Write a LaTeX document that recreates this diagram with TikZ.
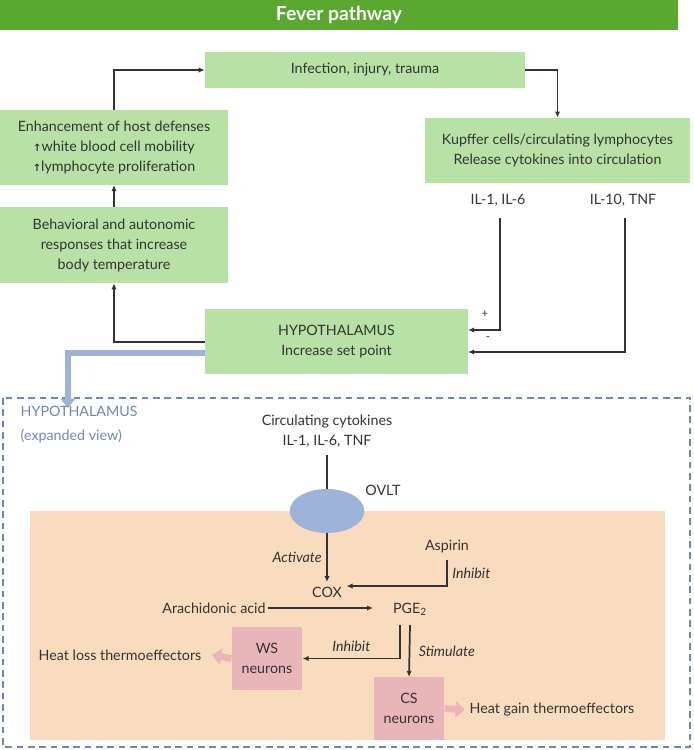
\documentclass[tikz,border=0pt]{standalone}
\usepackage{fontspec}
\setmainfont{Lato}
\newfontfamily\arrowfont{DejaVu Sans}
\usepackage{tikz}
\usetikzlibrary{positioning,shapes.geometric,arrows.meta}
\definecolor{titlegreen}{HTML}{5AA830}
\definecolor{boxgreen}{HTML}{B8E2A5}
\definecolor{ovltblue}{HTML}{9DB3D8}
\definecolor{dashblue}{HTML}{6F87B5}
\definecolor{zoneorange}{HTML}{F9DCBE}
\definecolor{neuronpink}{HTML}{E8B5B9}
\definecolor{pinkarrow}{HTML}{EDB3B8}
\definecolor{txtgray}{HTML}{333333}
\tikzstyle{greenbox} = [rectangle, fill=boxgreen, text centered, align=center, font=\fontsize{10.7}{15}\selectfont, text=txtgray]
\tikzstyle{neuron} = [rectangle, fill=neuronpink, text centered, align=center, minimum width=53pt, minimum height=47pt, font=\fontsize{10.7}{15}\selectfont, text=txtgray]
\tikzstyle{label} = [font=\fontsize{10.7}{14}\selectfont, text=txtgray, align=center]
\tikzstyle{effect} = [font=\fontsize{10.7}{14}\selectfont\itshape, text=txtgray]
\tikzstyle{arrow} = [line width=1.3pt, draw=txtgray, -{Latex[length=4.5pt,width=4pt]}]
\tikzstyle{plain} = [line width=1.3pt, draw=txtgray]
\tikzstyle{fatarrow} = [line width=4.5pt, -{Triangle[length=7pt,width=11pt]}]
\newcommand{\uparr}{{\arrowfont\bfseries\fontsize{7.5}{7}\selectfont ↑}}

\begin{document}
\begin{tikzpicture}[x=0.75pt,y=-0.75pt]
            \useasboundingbox (0,0) rectangle (693,750);

            % Title
            \fill[titlegreen] (0,0) rectangle (678,30);
            \node (title) at (339,15) [text=white, font=\fontsize{14.5}{16}\selectfont\bfseries] {Fever pathway};

            % Nodes
            \node (infect) at (365,70) [greenbox, minimum width=240pt, minimum height=27pt] {Infection, injury, trauma};
            \node (enhance) at (114,147.5) [greenbox, minimum width=171pt, minimum height=56pt] {Enhancement of host defenses\\\uparr white blood cell mobility\\\uparr lymphocyte proliferation};
            \node (kupffer) at (557.5,150.5) [greenbox, minimum width=199pt, minimum height=49pt] {Kupffer cells/circulating lymphocytes\\Release cytokines into circulation};
            \node (behave) at (114,245) [greenbox, minimum width=171pt, minimum height=57pt] {Behavioral and autonomic\\responses that increase\\body temperature};
            \node (hypo) at (336.5,341.5) [greenbox, minimum width=197pt, minimum height=49pt] {HYPOTHALAMUS\\Increase set point};

            \node (ilone) at (498,200) [label] {IL-1, IL-6};
            \node (ilten) at (623,200) [label] {IL-10, TNF};
            \coordinate (ilonetop) at (500,218);
            \coordinate (iltentop) at (625,218);

            % Arrows
            \draw [arrow] (enhance.north) |- (infect.west);
            \draw [arrow] (infect.east) -| (kupffer.north);
            \draw [arrow] (behave.north) -- (enhance.south);
            \draw [arrow] (hypo.west |- 0,342) -| (behave.south);
            \draw [arrow] (ilonetop) |- (hypo.east |- 0,330);
            \draw [arrow] (iltentop) |- (hypo.east |- 0,352);
            \node (plus) at (485,314) [label, font=\fontsize{8.5}{9}\selectfont] {+};
            \node (minus) at (488,339) [label, font=\fontsize{8.5}{9}\selectfont] {-};

            % Expanded view
            \draw[dashblue, line width=1.2pt, dash pattern=on 5pt off 3.5pt] (3,398) rectangle (690,747);
            \draw [fatarrow, ovltblue] (hypo.west |- 0,353) -| (68,408);
            \node (exptitle) at (16,411) [anchor=west, text=dashblue, font=\fontsize{10.7}{14}\selectfont] {HYPOTHALAMUS};
            \node (expsub) at (16,436) [anchor=west, text=dashblue, font=\fontsize{10.7}{14}\selectfont] {(expanded view)};

            \fill[zoneorange] (30,511) rectangle (665,740);

            \node (cyto) at (327,431) [label, font=\fontsize{10.7}{15}\selectfont] {Circulating cytokines\\IL-1, IL-6, TNF};
            \node (ovlt) at (327,511) [ellipse, fill=ovltblue, minimum width=56pt, minimum height=33pt] {};
            \node (ovltlab) at (383,490) [label] {OVLT};
            \draw [plain] (327,455) -- (ovlt.north);

            \node (cox) at (327,592) [label] {COX};
            \node (aspirin) at (447,547) [label] {Aspirin};
            \node (arach) at (214,608) [label] {Arachidonic acid};
            \node (pge) at (410,609) [label] {PGE\textsubscript{2}};
            \node (ws) at (267,658.5) [neuron] {WS\\neurons};
            \node (cs) at (409,708.5) [neuron] {CS\\neurons};
            \node (heatloss) at (120,655) [label] {Heat loss thermoeffectors};
            \node (heatgain) at (552,710) [label] {Heat gain thermoeffectors};

            \draw [arrow] (ovlt.south) -- node[effect, left] {Activate} (cox.north);
            \draw [arrow] (447,560) |- node[effect, pos=0.25, right] {Inhibit} (cox.east |- 0,586);
            \draw [arrow] (268,608) -- (373,608);
            \draw [arrow] (400,625) |- node[effect, pos=0.75, above=1pt] {Inhibit} (ws.east);
            \draw [arrow] (410,625) -- node[effect, right=3pt] {Stimulate} (cs.north);
            \draw [fatarrow, pinkarrow, line width=5pt, -{Triangle[length=7pt,width=12pt]}] (ws.west) -- (212,655);
            \draw [fatarrow, pinkarrow, line width=5pt, -{Triangle[length=7pt,width=12pt]}] (cs.east) -- (465,710);
        \end{tikzpicture}
\end{document}
